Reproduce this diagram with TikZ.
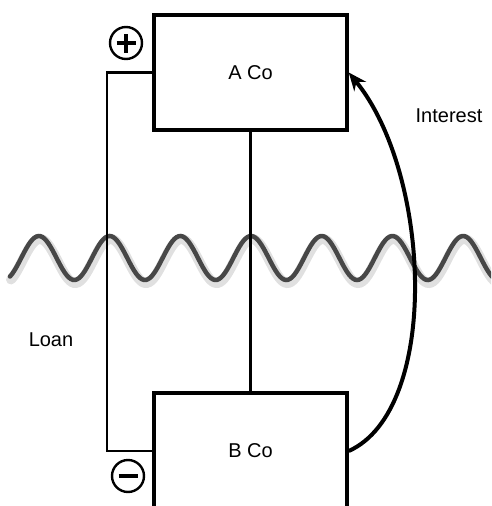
\documentclass[tikz,border=0pt]{standalone}
\usepackage{fontspec}
\setmainfont{Liberation Sans}
\usetikzlibrary{arrows.meta,positioning}

\begin{document}
\begin{tikzpicture}[
  x=1pt, y=-1pt,
  every node/.style={font=\fontsize{20}{24}\selectfont},
  company/.style={draw, line width=3.5pt, minimum width=193pt, minimum height=115pt, inner sep=0pt},
  link/.style={draw, line width=2.4pt},
  sign/.style={circle, draw, line width=2.4pt, minimum size=32pt, inner sep=0pt},
  signbar/.style={line width=3.5pt},
  wave/.style={line width=4.5pt, draw=black!72, line cap=round},
  shade/.style={line width=10pt, draw=black!12, line cap=round},
  interest/.style={-{Stealth[length=18pt,width=15pt]}, line width=4pt}
]
\path[use as bounding box, clip] (0,0) rectangle (491,506);

% border wave
\draw[shade, shift={(1,3)}] plot[domain=10:495, samples=240] (\x, {258 - 22*cos((\x-251)/70.7*360)});
\draw[wave] plot[domain=10:495, samples=240] (\x, {258 - 22*cos((\x-251)/70.7*360)});

\node[company] (aco) at (250.5,72.5) {A Co};
\node[company, minimum height=116pt] (bco) at (250.5,451) {B Co};

\coordinate (loopx) at (107,0);
\draw[link] (aco.west) -- (aco.west -| loopx) |- (bco.west);
\draw[link] (aco.south) -- (bco.north);

\node[sign] (plus) at (126,43) {};
\draw[signbar] ([xshift=-9.5pt]plus.center) -- ([xshift=9.5pt]plus.center);
\draw[signbar] ([yshift=-9.5pt]plus.center) -- ([yshift=9.5pt]plus.center);
\node[sign] (minus) at (128,476) {};
\draw[signbar] ([xshift=-9.5pt]minus.center) -- ([xshift=9.5pt]minus.center);

\draw[interest] (bco.east) .. controls (440,410) and (432,175) .. (aco.east);

\node (interest) at (449,115.5) {Interest};
\node (loan) at (51,339.5) {Loan};

\end{tikzpicture}
\end{document}
